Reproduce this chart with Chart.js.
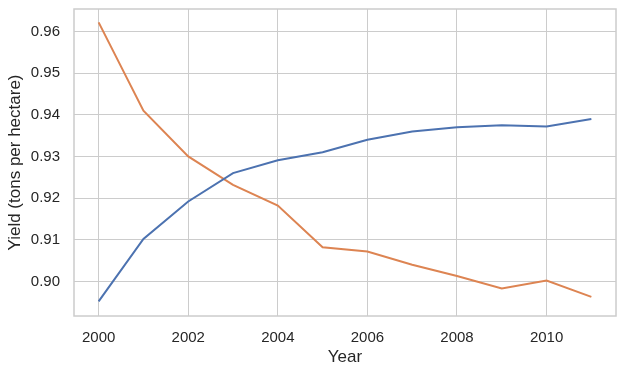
<!DOCTYPE html>
<html>
<head>
<meta charset="utf-8">
<script src="https://cdn.jsdelivr.net/npm/chart.js@4"></script>
<style>
  html, body { margin: 0; padding: 0; background: #fff; }
  #wrap { width: 626px; height: 375px; }
</style>
</head>
<body>
<div id="wrap"><canvas id="myChart" width="626" height="375"></canvas></div>
<script>
const years = [2000, 2001, 2002, 2003, 2004, 2005, 2006, 2007, 2008, 2009, 2010, 2011];
const blueYield = [0.8952, 0.9102, 0.9192, 0.926, 0.9291, 0.931, 0.934, 0.936, 0.937, 0.9375, 0.9372, 0.939];
const orangeYield = [0.9622, 0.941, 0.930, 0.9232, 0.9182, 0.9082, 0.9072, 0.904, 0.9013, 0.8983, 0.9002, 0.8963];
const xTicks = [2000, 2002, 2004, 2006, 2008, 2010];
const yTicks = [0.90, 0.91, 0.92, 0.93, 0.94, 0.95, 0.96];

const font = "'Liberation Sans', Arial, sans-serif";
const gridColor = "#cccccc";

// light grey frame around the plot, like seaborn whitegrid
const framePlugin = {
    id: "frame",
    afterDraw(chart) {
        const a = chart.chartArea;
        const ctx = chart.ctx;
        ctx.save();
        ctx.strokeStyle = gridColor;
        ctx.lineWidth = 1.5;
        ctx.strokeRect(a.left, a.top, a.right - a.left, a.bottom - a.top);
        ctx.restore();
    },
};

const data = {
    datasets: [
        {
            label: "Series 1",
            data: years.map((y, i) => ({ x: y, y: blueYield[i] })),
            borderColor: "#4c72b0",
            backgroundColor: "#4c72b0",
            borderWidth: 2,
            pointRadius: 0,
            tension: 0,
        },
        {
            label: "Series 2",
            data: years.map((y, i) => ({ x: y, y: orangeYield[i] })),
            borderColor: "#dd8452",
            backgroundColor: "#dd8452",
            borderWidth: 2,
            pointRadius: 0,
            tension: 0,
        },
    ],
};

const config = {
    type: "line",
    data: data,
    plugins: [framePlugin],
    options: {
        responsive: false,
        animation: false,
        layout: { padding: { top: 9, right: 10, left: 0, bottom: 0 } },
        plugins: { legend: { display: false }, tooltip: { enabled: false } },
        scales: {
            x: {
                type: "linear",
                min: 1999.45,
                max: 2011.55,
                afterBuildTicks: (s) => { s.ticks = xTicks.map((v) => ({ value: v })); },
                afterFit: (s) => { s.height = 59; s.paddingLeft = 0; s.paddingRight = 0; },
                grid: { color: gridColor, lineWidth: 1, drawTicks: false },
                border: { display: false },
                ticks: {
                    padding: 13,
                    color: "#262626",
                    font: { family: font, size: 15 },
                    callback: (v) => String(v),
                },
                title: {
                    display: true,
                    text: "Year",
                    color: "#262626",
                    font: { family: font, size: 17 },
                    padding: { top: 0, bottom: 7 },
                },
            },
            y: {
                type: "linear",
                min: 0.8917,
                max: 0.9654,
                afterBuildTicks: (s) => { s.ticks = yTicks.map((v) => ({ value: v })); },
                afterFit: (s) => { s.width = 74; s.paddingTop = 0; s.paddingBottom = 0; },
                grid: { color: gridColor, lineWidth: 1, drawTicks: false },
                border: { display: false },
                ticks: {
                    padding: 14,
                    color: "#262626",
                    font: { family: font, size: 15 },
                    callback: (v) => v.toFixed(2),
                },
                title: {
                    display: true,
                    text: "Yield (tons per hectare)",
                    color: "#262626",
                    font: { family: font, size: 17 },
                    padding: { top: 5, bottom: 0 },
                },
            },
        },
    },
};

const myChart = new Chart(document.getElementById("myChart"), config);
</script>
</body>
</html>
